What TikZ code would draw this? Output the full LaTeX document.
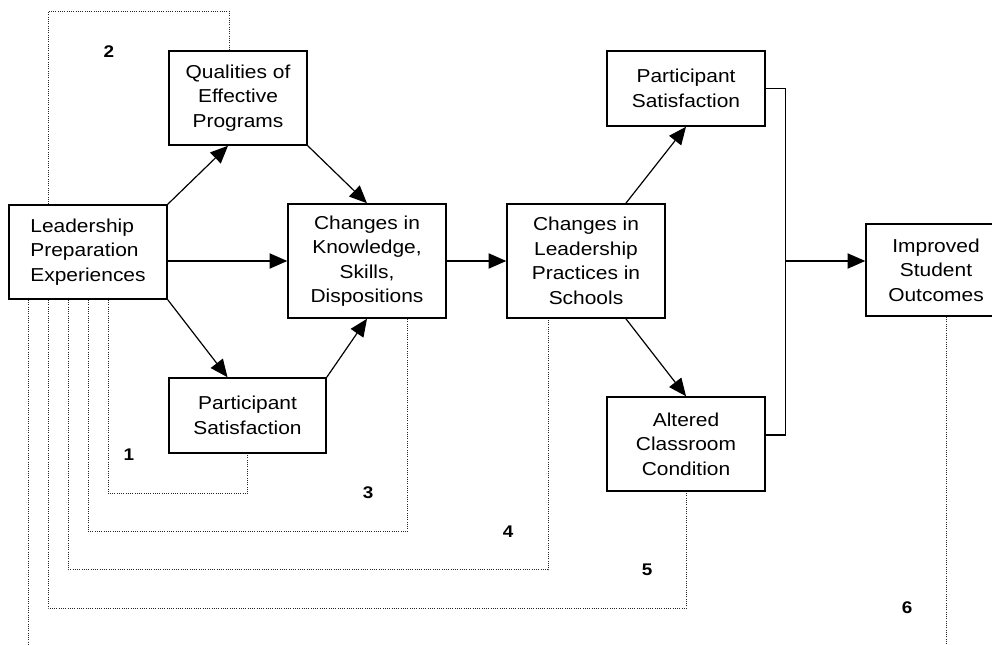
\documentclass[tikz,border=0pt]{standalone}
\usepackage{fontspec}
\setmainfont{Liberation Sans}[FakeStretch=1.12]
\usepackage{tikz}
\usetikzlibrary{arrows.meta}
\usetikzlibrary{calc,backgrounds}
\tikzstyle{lpm}=[
  >={Triangle[length=4.4mm,width=3.8mm]}, font=\fontsize{13.3}{17.4}\selectfont
]
\tikzstyle{lpmbox}=[
  draw, line width=1.1pt, align=center, inner sep=2pt
]
\tikzstyle{lpmflow}=[
  ->, line width=0.85pt
]
\tikzstyle{lpmjoin}=[
  line width=0.85pt
]
\tikzstyle{lpmloop}=[
  densely dotted, line width=0.6pt, draw=black!85
]
\tikzstyle{lpmnum}=[
  font=\fontsize{12}{14}\selectfont\bfseries
]

\begin{document}
\begin{tikzpicture}[lpm]
\useasboundingbox (0,0) rectangle (24.8,16.1);

\node (lead) [lpmbox, align=left, minimum width=3.95cm, minimum height=2.35cm] at (2.2, 9.8) {Leadership\\Preparation\\Experiences};
\node (know) [lpmbox, minimum width=3.95cm, minimum height=2.85cm] at ($(lead) + (6.975, -0.225)$) {Changes in\\Knowledge,\\Skills,\\Dispositions};
\node (qual) [lpmbox, minimum width=3.45cm, minimum height=2.35cm] at ($(know) + (-3.225, 4.075)$) {Qualities of\\Effective\\Programs};
\node (sat1) [lpmbox, minimum width=3.925cm, minimum height=1.875cm] at ($(know) + (-2.9875, -3.8625)$) {Participant\\Satisfaction};
\node (prac) [lpmbox, minimum width=3.95cm, minimum height=2.85cm] at ($(know) + (5.475, 0.0)$) {Changes in\\Leadership\\Practices in\\Schools};
\node (sat2) [lpmbox, minimum width=3.95cm, minimum height=1.875cm] at ($(prac) + (2.5, 4.3125)$) {Participant\\Satisfaction};
\node (class) [lpmbox, minimum width=3.95cm, minimum height=2.35cm] at ($(prac) + (2.5, -4.575)$) {Altered\\Classroom\\Condition};
\node (out) [lpmbox, minimum width=3.5cm, minimum height=2.3cm] at ($(prac) + (8.75, -0.225)$) {Improved\\Student\\Outcomes};
\coordinate (join) at ($(prac.east) + (3.0, 0.0)$);

\node (n1) [lpmnum] at (3.225, 4.725) {1};
\node (n2) [lpmnum] at (2.725, 14.8) {2};
\node (n3) [lpmnum] at (9.2, 3.775) {3};
\node (n4) [lpmnum] at (12.7, 2.8) {4};
\node (n5) [lpmnum] at (16.175, 1.85) {5};
\node (n6) [lpmnum] at (22.675, 0.9) {6};

\begin{scope}[on background layer]
\draw [lpmflow] (lead.north east) -- ([xshift=-2.5mm]qual.south);
\draw [lpmflow] (qual.south east) -- (know.north);
\draw [lpmflow] (lead.east |- know.west) -- (know.west);
\draw [lpmflow] (lead.south east) -- ([xshift=-5mm]sat1.north);
\draw [lpmflow] (sat1.north east) -- (know.south);
\draw [lpmflow] (know.east) -- (prac.west);
\draw [lpmflow] ($(prac.north)!0.5!(prac.north east)$) -- (sat2.south);
\draw [lpmflow] ($(prac.south)!0.5!(prac.south east)$) -- (class.north);
\draw [lpmjoin] (sat2.east) -| (join);
\draw [lpmjoin] ([yshift=2.25mm]class.east) -| (join);
\draw [lpmflow] (join) -- (join -| out.west);

% dotted feedback paths
\draw [lpmloop] ([xshift=2.5cm]lead.south west) -- ++(0, -4.85) -| (sat1.south);
\draw [lpmloop] ([xshift=1cm]lead.north west) -- ++(0, 4.825) -| ([xshift=-2.25mm]qual.north);
\draw [lpmloop] ([xshift=2cm]lead.south west) -- ++(0, -5.8) -| ([xshift=1cm]know.south);
\draw [lpmloop] ([xshift=1.5cm]lead.south west) -- ++(0, -6.75) -| ([xshift=-0.95cm]prac.south);
\draw [lpmloop] ([xshift=1cm]lead.south west) -- ++(0, -7.725) -| (class.south);
\draw [lpmloop] ([xshift=0.5cm]lead.south west) -- ++(0, -8.8) -| ([xshift=2.5mm]out.south);
\end{scope}
\end{tikzpicture}
\end{document}
